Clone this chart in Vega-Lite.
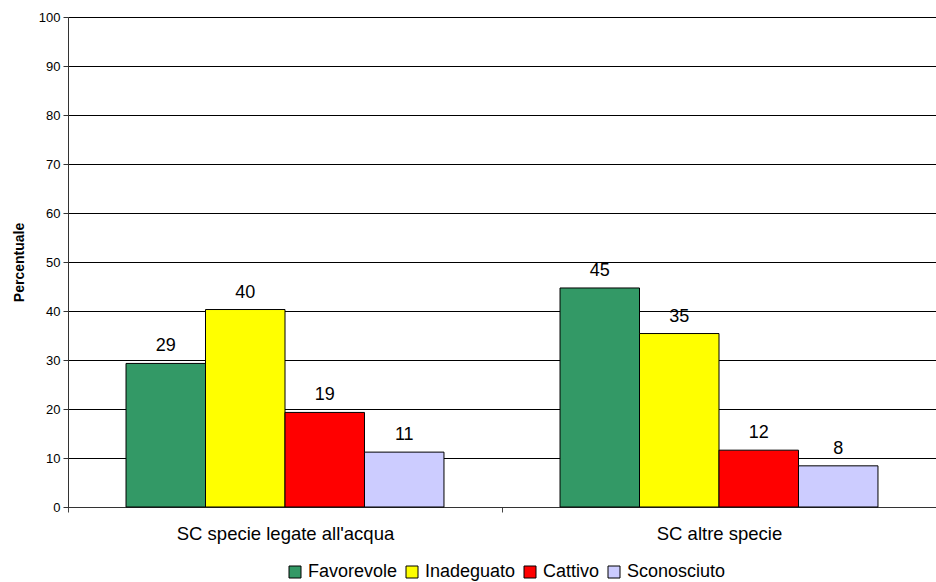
{
  "$schema": "https://vega.github.io/schema/vega-lite/v6.json",
  "width": 868,
  "height": 490,
  "autosize": {"type": "none"},
  "padding": {"left": 68, "top": 17, "right": 0, "bottom": 75},
  "background": "white",
  "config": {
    "font": "Liberation Sans",
    "view": {"stroke": null}
  },
  "data": {
    "values": [
      {"gruppo": "SC specie legate all'acqua", "stato": "Favorevole", "valore": 29.3},
      {"gruppo": "SC specie legate all'acqua", "stato": "Inadeguato", "valore": 40.3},
      {"gruppo": "SC specie legate all'acqua", "stato": "Cattivo", "valore": 19.3},
      {"gruppo": "SC specie legate all'acqua", "stato": "Sconosciuto", "valore": 11.2},
      {"gruppo": "SC altre specie", "stato": "Favorevole", "valore": 44.7},
      {"gruppo": "SC altre specie", "stato": "Inadeguato", "valore": 35.4},
      {"gruppo": "SC altre specie", "stato": "Cattivo", "valore": 11.6},
      {"gruppo": "SC altre specie", "stato": "Sconosciuto", "valore": 8.4}
    ]
  },
  "encoding": {
    "x": {
      "field": "gruppo",
      "type": "nominal",
      "sort": ["SC specie legate all'acqua", "SC altre specie"],
      "scale": {"paddingInner": 0, "paddingOuter": 0},
      "axis": {
        "title": null,
        "labelAngle": 0,
        "labelFontSize": 18.5,
        "labelColor": "black",
        "labelPadding": 12,
        "labelBaseline": "top",
        "labelLimit": 0,
        "tickBand": "extent",
        "tickColor": "#444",
        "tickSize": 5,
        "domainColor": "#333",
        "grid": false
      }
    },
    "xOffset": {
      "field": "stato",
      "type": "nominal",
      "sort": ["Favorevole", "Inadeguato", "Cattivo", "Sconosciuto"],
      "scale": {"paddingInner": 0, "paddingOuter": 0.73}
    },
    "y": {
      "field": "valore",
      "type": "quantitative",
      "scale": {"domain": [0, 100], "nice": false},
      "axis": {
        "title": "Percentuale",
        "titleFontSize": 14,
        "titleFontWeight": "bold",
        "titleColor": "black",
        "titlePadding": 12,
        "values": [0, 10, 20, 30, 40, 50, 60, 70, 80, 90, 100],
        "labelFontSize": 13,
        "labelColor": "black",
        "labelPadding": 3,
        "tickSize": 5,
        "tickColor": "#333",
        "domainColor": "#333",
        "grid": true,
        "gridColor": "black",
        "gridOpacity": 1,
        "gridWidth": 1
      }
    }
  },
  "layer": [
    {
      "mark": {"type": "bar", "stroke": "black", "strokeWidth": 1},
      "encoding": {
        "color": {
          "field": "stato",
          "type": "nominal",
          "sort": ["Favorevole", "Inadeguato", "Cattivo", "Sconosciuto"],
          "scale": {
            "domain": ["Favorevole", "Inadeguato", "Cattivo", "Sconosciuto"],
            "range": ["#339966", "#FFFF00", "#FF0000", "#CCCCFF"]
          },
          "legend": {
            "title": null,
            "orient": "none",
            "direction": "horizontal",
            "legendX": 218,
            "legendY": 546,
            "symbolType": "square",
            "symbolSize": 144,
            "symbolStrokeColor": "black",
            "symbolStrokeWidth": 1,
            "symbolOpacity": 1,
            "labelFontSize": 18,
            "labelColor": "black",
            "labelOffset": 4,
            "labelLimit": 0,
            "columnPadding": 5
          }
        }
      }
    },
    {
      "mark": {"type": "text", "baseline": "bottom", "dy": -8, "fontSize": 18, "color": "black"},
      "encoding": {
        "text": {"field": "valore", "type": "quantitative", "format": ".0f"}
      }
    }
  ]
}
